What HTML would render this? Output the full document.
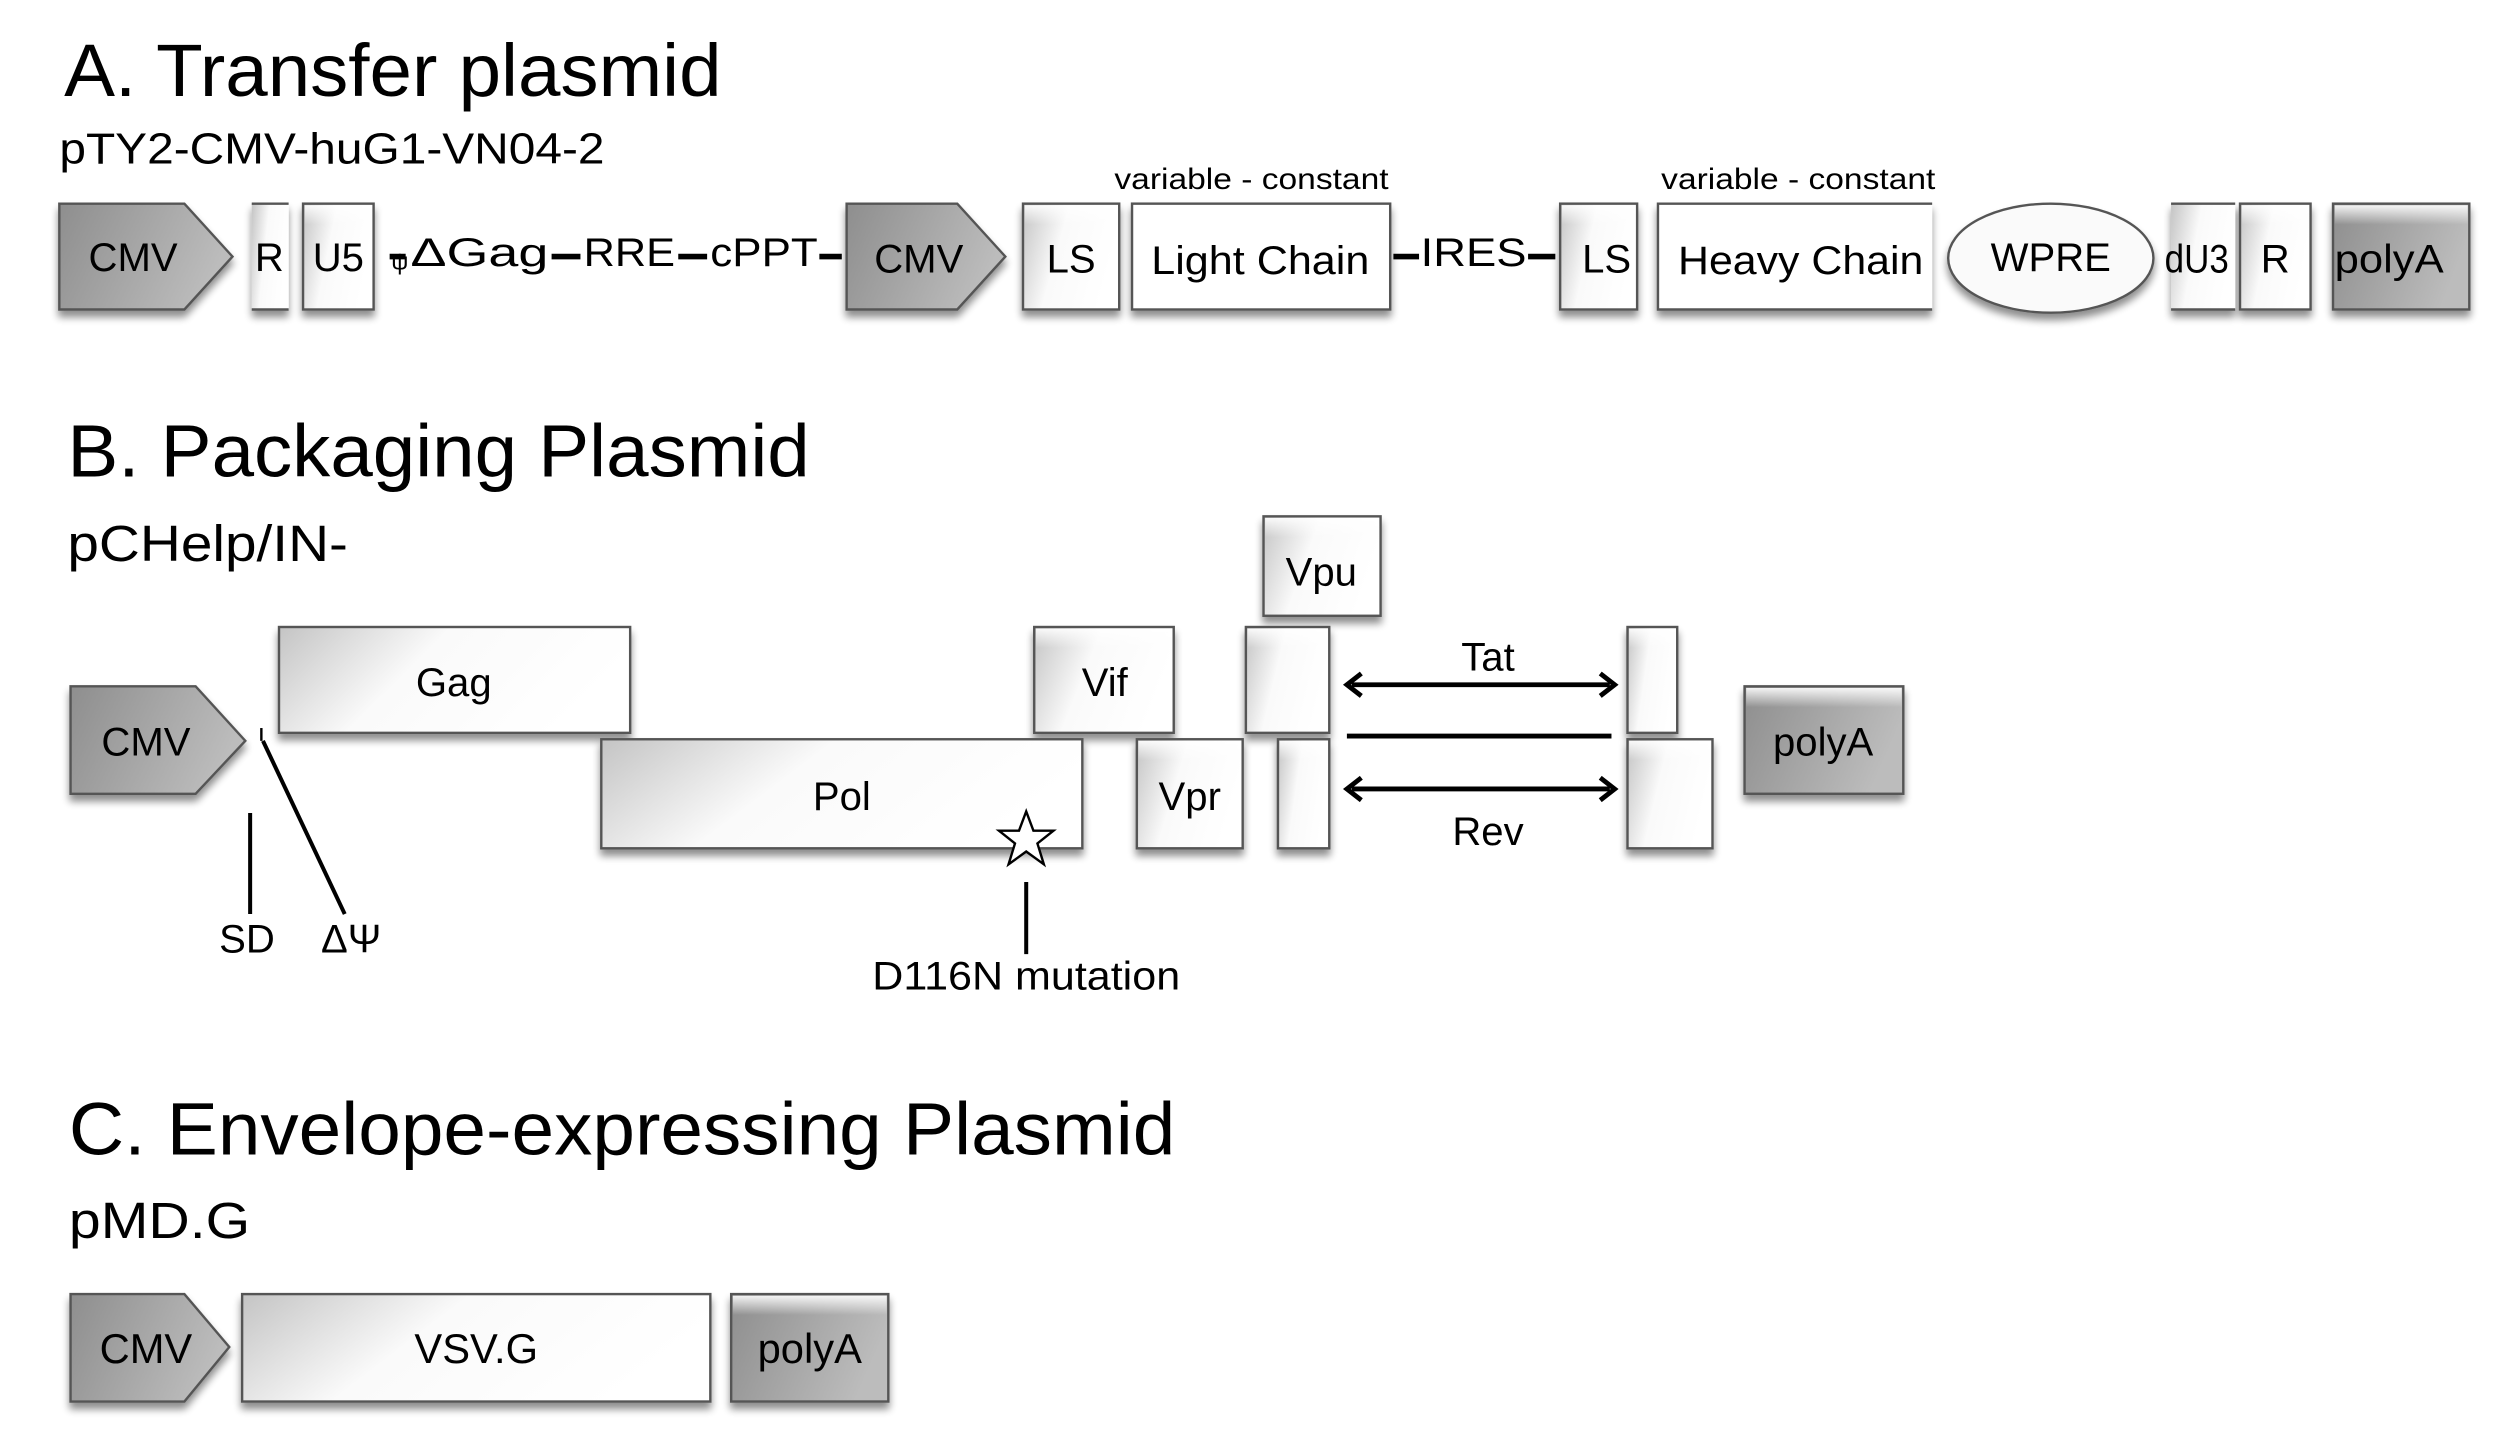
<!DOCTYPE html>
<html><head><meta charset="utf-8"><style>
html,body{margin:0;padding:0;background:#fff;}
svg{display:block;}
text{font-family:"Liberation Sans",Arial,sans-serif;fill:#000;}
</style></head><body>
<svg width="2511" height="1449" viewBox="0 0 1566 903.6" preserveAspectRatio="none" xmlns="http://www.w3.org/2000/svg">
<defs>
<linearGradient id="lg" x1="0" y1="0" x2="1" y2="0.3">
<stop offset="0" stop-color="#c4c4c4"/><stop offset="0.45" stop-color="#fafafa"/><stop offset="1" stop-color="#fff"/>
</linearGradient>
<linearGradient id="dg" x1="0" y1="0" x2="1" y2="0.3">
<stop offset="0" stop-color="#8e8e8e"/><stop offset="1" stop-color="#bcbcbc"/>
</linearGradient>
<linearGradient id="hl" x1="0" y1="0" x2="0" y2="1">
<stop offset="0" stop-color="#fff" stop-opacity="0.9"/><stop offset="1" stop-color="#fff" stop-opacity="0"/>
</linearGradient>
<filter id="sh" x="-10%" y="-10%" width="120%" height="140%">
<feGaussianBlur in="SourceAlpha" stdDeviation="2.5"/><feOffset dx="0" dy="4" result="b"/>
<feComponentTransfer><feFuncA type="linear" slope="0.45"/></feComponentTransfer>
<feMerge><feMergeNode/><feMergeNode in="SourceGraphic"/></feMerge>
</filter>
</defs>
<g stroke="#555" stroke-width="1.5" filter="url(#sh)">
<path d="M37,127 H115 L145,160 L115,193 H37 Z" fill="url(#dg)"/>
<rect x="157" y="127" width="23" height="66" fill="url(#lg)" stroke="none"/>
<line x1="157" y1="127" x2="180" y2="127"/><line x1="157" y1="193" x2="180" y2="193"/>
<rect x="189" y="127" width="44" height="66" fill="url(#lg)"/>
<path d="M528,127 H597 L627,160 L597,193 H528 Z" fill="url(#dg)"/>
<rect x="638" y="127" width="60" height="66" fill="url(#lg)"/>
<rect x="706" y="127" width="161" height="66" fill="#fff"/>
<rect x="973" y="127" width="48" height="66" fill="url(#lg)"/>
<path d="M1205,127 H1034 V193 H1205" fill="#fff"/>
<ellipse cx="1279" cy="161" rx="64" ry="34" fill="#fafafa"/>
<rect x="1354" y="127" width="40" height="66" fill="url(#lg)" stroke="none"/>
<line x1="1354" y1="127" x2="1394" y2="127"/><line x1="1354" y1="193" x2="1394" y2="193"/>
<rect x="1397" y="127" width="44" height="66" fill="url(#lg)"/>
<rect x="1455" y="127" width="85" height="66" fill="url(#dg)"/>
<path d="M44,428 H122 L153,462 L122,495 H44 Z" fill="url(#dg)"/>
<rect x="174" y="391" width="219" height="66" fill="url(#lg)"/>
<rect x="645" y="391" width="87" height="66" fill="url(#lg)"/>
<rect x="788" y="322" width="73" height="62" fill="url(#lg)"/>
<rect x="777" y="391" width="52" height="66" fill="url(#lg)"/>
<rect x="1015" y="391" width="31" height="66" fill="url(#lg)"/>
<rect x="375" y="461" width="300" height="68" fill="url(#lg)"/>
<rect x="709" y="461" width="66" height="68" fill="url(#lg)"/>
<rect x="797" y="461" width="32" height="68" fill="url(#lg)"/>
<rect x="1015" y="461" width="53" height="68" fill="url(#lg)"/>
<rect x="1088" y="428" width="99" height="67" fill="url(#dg)"/>
<path d="M44,807 H115 L143,840 L115,874 H44 Z" fill="url(#dg)"/>
<rect x="151" y="807" width="292" height="67" fill="url(#lg)"/>
<rect x="456" y="807" width="98" height="67" fill="url(#dg)"/>
</g>
<g fill="url(#hl)">
<rect x="190" y="128" width="42" height="12"/><rect x="639" y="128" width="58" height="12"/>
<rect x="974" y="128" width="46" height="12"/><rect x="1398" y="128" width="42" height="12"/>
<rect x="1456" y="128" width="83" height="12"/><rect x="1089" y="429" width="97" height="12"/>
<rect x="457" y="808" width="96" height="12"/><rect x="789" y="323" width="71" height="12"/>
<rect x="646" y="392" width="85" height="12"/><rect x="778" y="392" width="50" height="12"/>
<rect x="1016" y="392" width="29" height="12"/><rect x="710" y="462" width="64" height="12"/>
<rect x="798" y="462" width="30" height="12"/><rect x="1016" y="462" width="51" height="12"/>
</g>
<text x="40" y="60" font-size="46" textLength="410" lengthAdjust="spacingAndGlyphs">A. Transfer plasmid</text>
<text x="37" y="102" font-size="27" textLength="340" lengthAdjust="spacingAndGlyphs">pTY2-CMV-huG1-VN04-2</text>
<g font-size="25" text-anchor="middle">
<text x="83" y="169">CMV</text><text x="168" y="169">R</text><text x="211" y="169">U5</text>
<text x="573" y="170">CMV</text><text x="668" y="170">LS</text>
<text x="786" y="171" textLength="136" lengthAdjust="spacingAndGlyphs">Light Chain</text>
<text x="1002" y="170">LS</text>
<text x="1123" y="171" textLength="153" lengthAdjust="spacingAndGlyphs">Heavy Chain</text>
<text x="1279" y="169">WPRE</text><text x="1370" y="170" textLength="40" lengthAdjust="spacingAndGlyphs">dU3</text>
<text x="1419" y="170">R</text><text x="1490" y="170" textLength="68" lengthAdjust="spacingAndGlyphs">polyA</text>
</g>
<text x="695" y="118" font-size="18.5" textLength="171" lengthAdjust="spacingAndGlyphs">variable - constant</text>
<text x="1036" y="118" font-size="18.5" textLength="171" lengthAdjust="spacingAndGlyphs">variable - constant</text>
<text x="256" y="166" font-size="25" textLength="86" lengthAdjust="spacingAndGlyphs">ΔGag</text>
<text x="244" y="168" font-size="15">ψ</text>
<text x="364" y="166" font-size="25" textLength="57" lengthAdjust="spacingAndGlyphs">RRE</text>
<text x="443" y="166" font-size="25" textLength="67" lengthAdjust="spacingAndGlyphs">cPPT</text>
<text x="886" y="166" font-size="25" textLength="66" lengthAdjust="spacingAndGlyphs">IRES</text>
<g stroke="#000" stroke-width="3.5">
<line x1="243" y1="160" x2="253" y2="160"/><line x1="344" y1="160" x2="362" y2="160"/>
<line x1="423" y1="160" x2="441" y2="160"/><line x1="511" y1="160" x2="525" y2="160"/>
<line x1="869" y1="160" x2="885" y2="160"/><line x1="953" y1="160" x2="970" y2="160"/>
</g>
<text x="42" y="297" font-size="46" textLength="463" lengthAdjust="spacingAndGlyphs">B. Packaging Plasmid</text>
<text x="42" y="350" font-size="32" textLength="175" lengthAdjust="spacingAndGlyphs">pCHelp/IN-</text>
<g font-size="25" text-anchor="middle">
<text x="91" y="471">CMV</text><text x="283" y="434">Gag</text><text x="525" y="505">Pol</text>
<text x="689" y="434">Vif</text><text x="824" y="365">Vpu</text><text x="742" y="505">Vpr</text>
<text x="1137" y="471">polyA</text>
<text x="928" y="418">Tat</text><text x="928" y="527">Rev</text>
<text x="154" y="594">SD</text><text x="219" y="594">ΔΨ</text>
<text x="640" y="617" textLength="192" lengthAdjust="spacingAndGlyphs">D116N mutation</text>
</g>
<g stroke="#000" stroke-width="3" fill="none">
<line x1="843" y1="427" x2="1004" y2="427"/>
<polyline points="849,420 840,427 849,434"/><polyline points="998,420 1007,427 998,434"/>
<line x1="840" y1="459" x2="1005" y2="459"/>
<line x1="843" y1="492" x2="1004" y2="492"/>
<polyline points="849,485 840,492 849,499"/><polyline points="998,485 1007,492 998,499"/>
<line x1="156" y1="507" x2="156" y2="570" stroke-width="2.5"/>
<line x1="164" y1="462" x2="215" y2="570" stroke-width="2.5"/>
<line x1="163" y1="454" x2="163" y2="462" stroke-width="1.5"/>
<line x1="640" y1="550" x2="640" y2="595" stroke-width="2.5"/>
</g>
<polygon points="640,506 644.5,518 657,518 647,526 651,539 640,531 629,539 633,526 623,518 635.5,518" fill="#fff" stroke="#000" stroke-width="1.5"/>
<text x="43" y="720" font-size="46" textLength="690" lengthAdjust="spacingAndGlyphs">C. Envelope-expressing Plasmid</text>
<text x="43" y="772" font-size="32" textLength="113" lengthAdjust="spacingAndGlyphs">pMD.G</text>
<g font-size="26" text-anchor="middle">
<text x="91" y="850">CMV</text><text x="297" y="850">VSV.G</text><text x="505" y="850">polyA</text>
</g>
</svg>
</body></html>
